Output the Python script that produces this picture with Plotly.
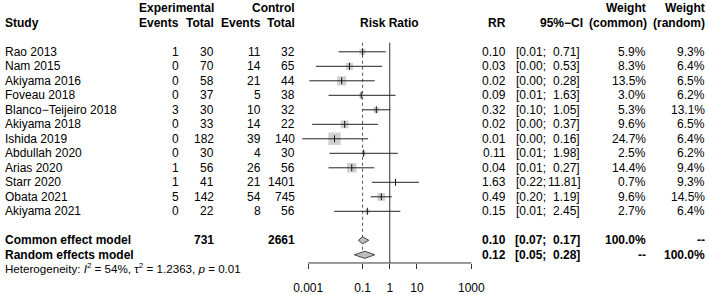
import numpy as np
import plotly.graph_objects as go

# ---------------- data ----------------
studies = ["Rao 2013", "Nam 2015", "Akiyama 2016", "Foveau 2018", "Blanco\u2212Teijeiro 2018",
           "Akiyama 2018", "Ishida 2019", "Abdullah 2020", "Arias 2020", "Starr 2020",
           "Obata 2021", "Akiyama 2021"]
exp_events = [1, 0, 0, 0, 3, 0, 0, 0, 1, 1, 5, 0]
exp_total = [30, 70, 58, 37, 30, 33, 182, 30, 56, 41, 142, 22]
ctrl_events = [11, 14, 21, 5, 10, 14, 39, 4, 26, 21, 54, 8]
ctrl_total = [32, 65, 44, 38, 32, 22, 140, 30, 56, 1401, 745, 56]
rr = [0.10, 0.033, 0.017, 0.089, 0.32, 0.022, 0.0093, 0.11, 0.04, 1.63, 0.49, 0.15]
ci_lo = [0.013, 0.0019, 0.0011, 0.0056, 0.10, 0.0014, 0.0006, 0.0061, 0.0056, 0.22, 0.20, 0.0090]
ci_hi = [0.71, 0.53, 0.28, 1.63, 1.05, 0.37, 0.16, 1.98, 0.27, 11.81, 1.19, 2.45]
w_common = [5.9, 8.3, 13.5, 3.0, 5.3, 9.6, 24.7, 2.5, 14.4, 0.7, 9.6, 2.7]
w_random = [9.3, 6.4, 6.5, 6.2, 13.1, 6.5, 6.4, 6.2, 9.4, 9.3, 14.5, 6.4]

common_est, common_lo, common_hi = 0.10, 0.07, 0.17
random_est, random_lo, random_hi = 0.12, 0.05, 0.28
exp_total_sum, ctrl_total_sum = 731, 2661
i2, tau2, p_het = 54, 1.2363, 0.01

tick_vals = [0.001, 0.1, 1, 10, 1000]
tick_text = ["0.001", "0.1", "1", "10", "1000"]

# ---------------- layout helpers ----------------
W, H = 708, 295
FONT = "Liberation Sans, Arial, Helvetica, sans-serif"
row0_px, pitch = 52.7, 14.75
rows = list(range(len(studies)))
row_common, row_random = 13, 14
axis_row = (267.5 - row0_px) / pitch
het_row = (272.3 - row0_px) / pitch
top_row = (43.5 - row0_px) / pitch

# log axis mapping: 0.001 -> 308.2 px, 1000 -> 471.3 px
ppd = (471.3 - 308.2) / 6
x_lo_log, x_hi_log = -3.6, 3.6
dom0 = 308.2 + (x_lo_log + 3) * ppd
dom1 = 308.2 + (x_hi_log + 3) * ppd

fig = go.Figure()

# dotted common-effect line
fig.add_trace(go.Scatter(x=[common_est, common_est], y=[top_row, 13.72], mode="lines",
                         line=dict(color="#555555", width=1, dash="dot"), hoverinfo="skip"))
# line of no effect
fig.add_trace(go.Scatter(x=[1, 1], y=[top_row, axis_row], mode="lines",
                         line=dict(color="#333333", width=1), hoverinfo="skip"))
# axis baseline
fig.add_trace(go.Scatter(x=[tick_vals[0], tick_vals[-1]], y=[axis_row, axis_row], mode="lines",
                         line=dict(color="#333333", width=1), hoverinfo="skip"))

# squares
fig.add_trace(go.Scatter(x=rr, y=rows, mode="markers",
                         marker=dict(symbol="square", size=[2.5 * np.sqrt(w) for w in w_common],
                                     color="#BEBEBE", line=dict(width=0)), hoverinfo="skip"))
# CI lines
xs, ys = [], []
for lo, hi, r in zip(ci_lo, ci_hi, rows):
    xs += [lo, hi, None]
    ys += [r, r, None]
fig.add_trace(go.Scatter(x=xs, y=ys, mode="lines", line=dict(color="#222222", width=1),
                         hoverinfo="skip"))
# point estimate ticks
fig.add_trace(go.Scatter(x=rr, y=rows, mode="markers",
                         marker=dict(symbol="line-ns-open", size=5, color="#111111",
                                     line=dict(width=1, color="#111111")), hoverinfo="skip"))

# diamonds
h = 3.6 / pitch
for est, lo, hi, r in [(common_est, common_lo, common_hi, row_common),
                       (random_est, random_lo, random_hi, row_random)]:
    fig.add_trace(go.Scatter(x=[lo, est, hi, est, lo], y=[r, r - h, r, r + h, r],
                             mode="lines", fill="toself", fillcolor="#BEBEBE",
                             line=dict(color="#444444", width=1), hoverinfo="skip"))

annotations = []


def txt(xpx, row, text, anchor="right", bold=False, size=12):
    if bold:
        text = "<b>" + text + "</b>"
    annotations.append(dict(x=xpx / W, xref="paper", y=row, yref="y", text=text,
                            showarrow=False, xanchor=anchor, yanchor="middle",
                            font=dict(family=FONT, size=size, color="black")))


# column right edges (px)
X_STUDY, X_EE, X_ET, X_CE, X_CT = 3, 180.5, 215.5, 262.5, 296.5
X_RR, X_CIL, X_CIU, X_WC, X_WR = 507.7, 548.3, 581.5, 647.5, 707

# headers
txt(X_ET, -3, "Experimental", bold=True)
txt(X_CT, -3, "Control", bold=True)
txt(X_WC, -3, "Weight", bold=True)
txt(X_WR, -3, "Weight", bold=True)
txt(X_STUDY, -2, "Study", anchor="left", bold=True)
txt(X_EE, -2, "Events", bold=True)
txt(X_ET, -2, "Total", bold=True)
txt(X_CE, -2, "Events", bold=True)
txt(X_CT, -2, "Total", bold=True)
annotations.append(dict(x=np.log10(1), xref="x", y=-2, yref="y", text="<b>Risk Ratio</b>",
                        showarrow=False, xanchor="center", yanchor="middle",
                        font=dict(family=FONT, size=12, color="black")))
txt(X_RR, -2, "RR", bold=True)
txt(585, -2, "95%\u2212CI", bold=True)
txt(X_WC + 1, -2, "(common)", bold=True)
txt(X_WR, -2, "(random)", bold=True)

# study rows
for i, r in enumerate(rows):
    txt(X_STUDY, r, studies[i], anchor="left")
    txt(X_EE, r, str(exp_events[i]))
    txt(X_ET, r, str(exp_total[i]))
    txt(X_CE, r, str(ctrl_events[i]))
    txt(X_CT, r, str(ctrl_total[i]))
    txt(X_RR, r, f"{rr[i]:.2f}")
    txt(X_CIL, r, f"[{ci_lo[i]:.2f};")
    txt(X_CIU, r, f"{ci_hi[i]:.2f}]")
    txt(X_WC, r, f"{w_common[i]:.1f}%")
    txt(X_WR, r, f"{w_random[i]:.1f}%")

# pooled rows
txt(X_STUDY, row_common, "Common effect model", anchor="left", bold=True)
txt(X_ET, row_common, str(exp_total_sum), bold=True)
txt(X_CT, row_common, str(ctrl_total_sum), bold=True)
txt(X_RR, row_common, f"{common_est:.2f}", bold=True)
txt(X_CIL, row_common, f"[{common_lo:.2f};", bold=True)
txt(X_CIU, row_common, f"{common_hi:.2f}]", bold=True)
txt(X_WC, row_common, "100.0%", bold=True)
txt(X_WR, row_common, "--", bold=True)

txt(X_STUDY, row_random, "Random effects model", anchor="left", bold=True)
txt(X_RR, row_random, f"{random_est:.2f}", bold=True)
txt(X_CIL, row_random, f"[{random_lo:.2f};", bold=True)
txt(X_CIU, row_random, f"{random_hi:.2f}]", bold=True)
txt(X_WC, row_random, "--", bold=True)
txt(X_WR, row_random, "100.0%", bold=True)

txt(X_STUDY, het_row,
    f"Heterogeneity: <i>I</i><sup>2</sup> = {i2}%, \u03c4<sup>2</sup> = {tau2:.4f}, <i>p</i> = {p_het:.2f}",
    anchor="left", size=11.6)

fig.update_layout(
    width=W, height=H, margin=dict(l=0, r=0, t=0, b=0),
    paper_bgcolor="white", plot_bgcolor="white", showlegend=False,
    annotations=annotations,
    xaxis=dict(type="log", range=[x_lo_log, x_hi_log], domain=[dom0 / W, dom1 / W],
               anchor="free", position=1 - 267.5 / H,
               tickvals=tick_vals, ticktext=tick_text, ticks="outside", ticklen=5,
               tickwidth=1, tickcolor="#333333", showgrid=False, zeroline=False,
               showline=False, ticklabelstandoff=9,
               tickfont=dict(family=FONT, size=12, color="black")),
    yaxis=dict(range=[(H - row0_px) / pitch, -row0_px / pitch], domain=[0, 1],
               visible=False, showgrid=False, zeroline=False),
)

fig.write_html("out.html", config={"displayModeBar": False},
               post_script="document.body.style.margin='0';document.body.style.overflow='hidden';")
